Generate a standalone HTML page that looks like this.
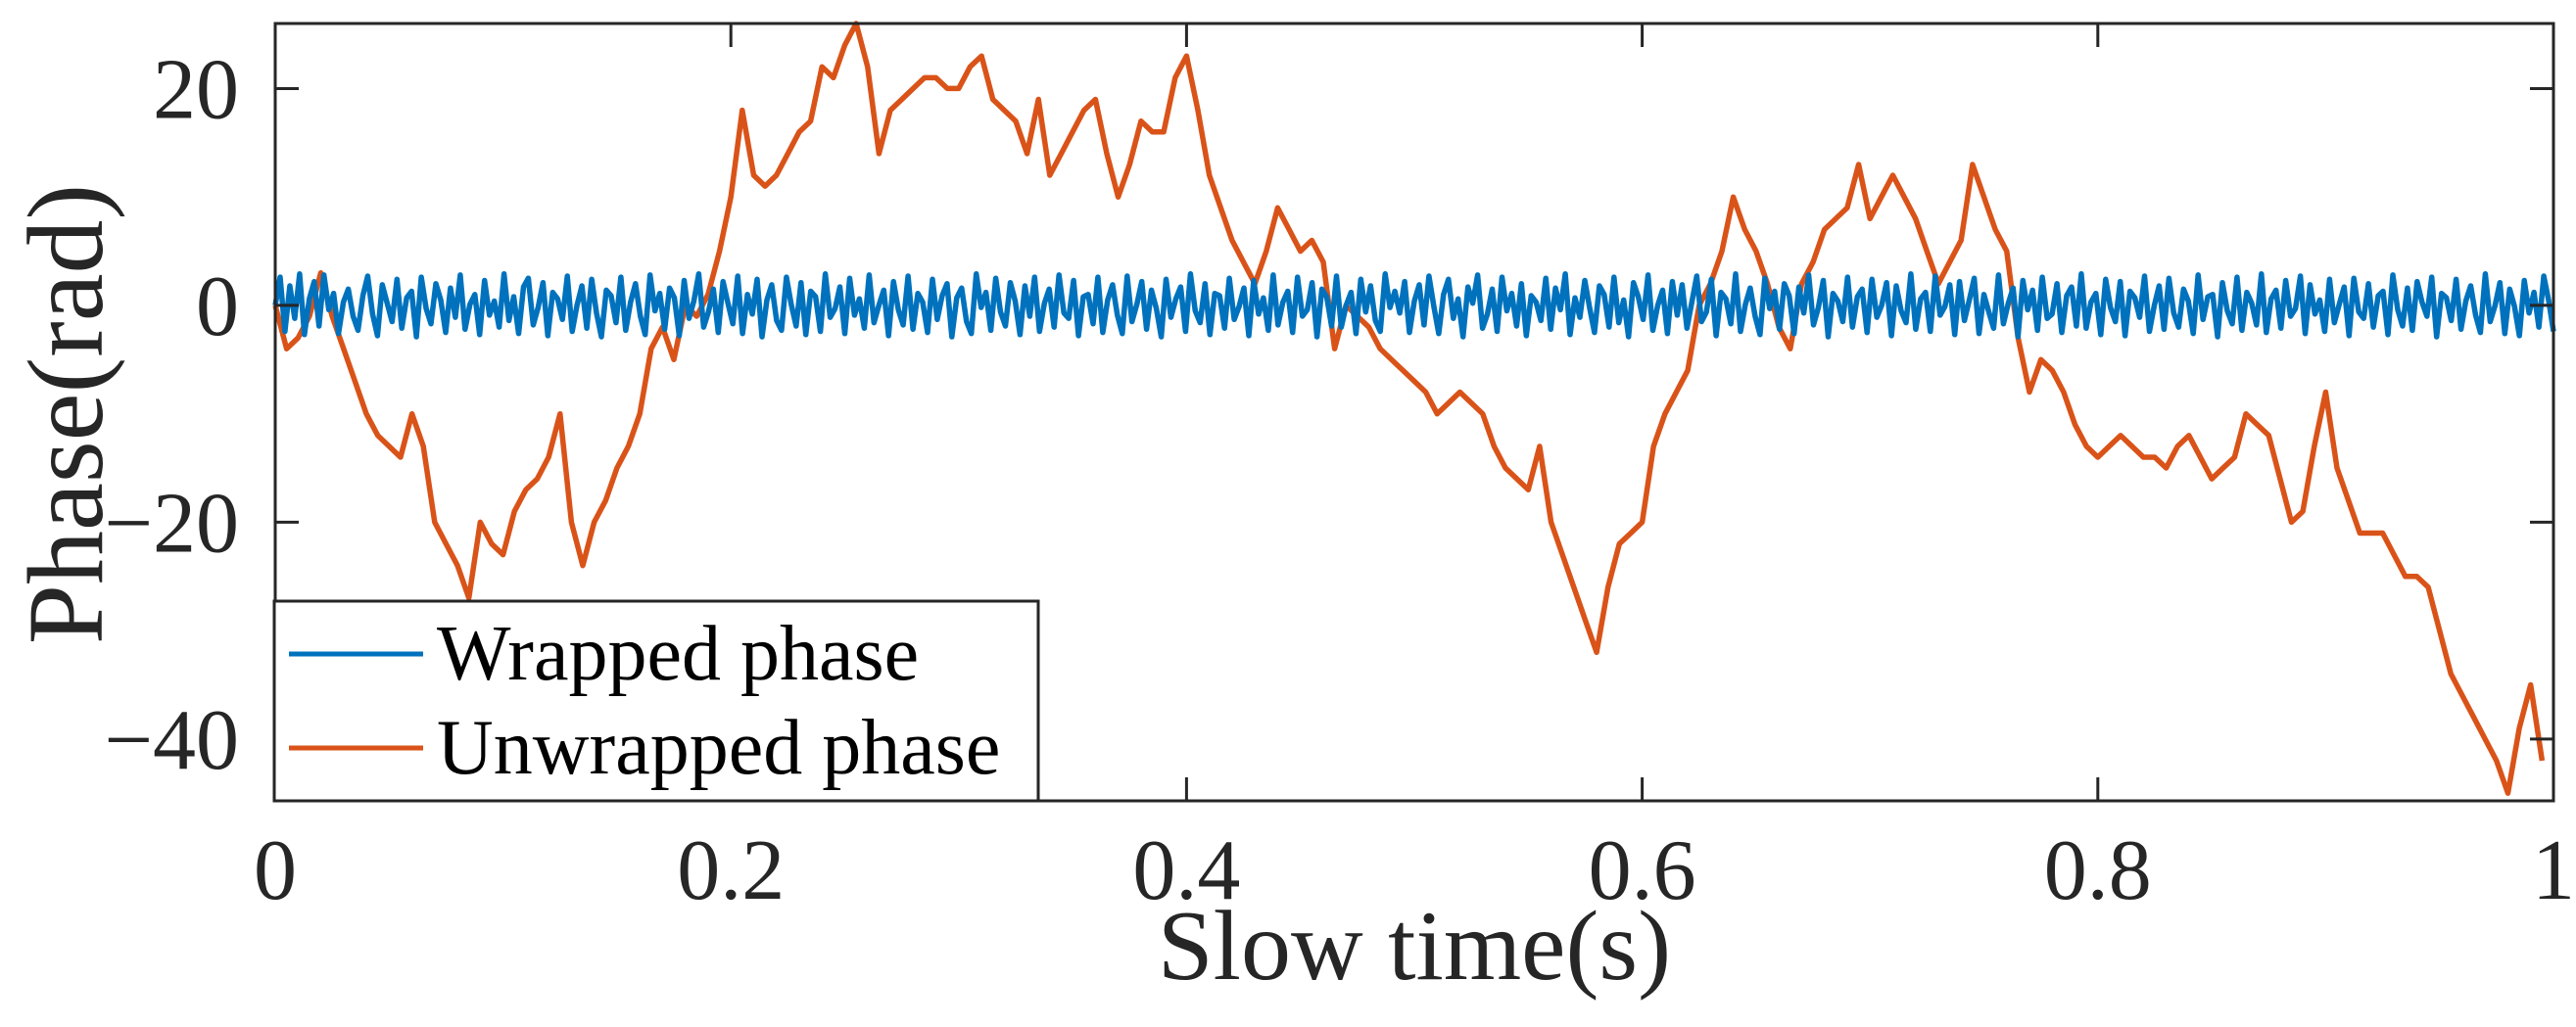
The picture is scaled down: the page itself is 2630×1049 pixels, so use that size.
<!DOCTYPE html>
<html><head><meta charset="utf-8"><style>
html,body{margin:0;padding:0;background:#fff;}
svg{display:block;}
text{font-family:"Liberation Serif",serif;fill:#262626;}
</style></head><body>
<svg id="chart" width="2630" height="1049" viewBox="0 0 2630 1049">
<rect x="0" y="0" width="2630" height="1049" fill="#fff"/>
<g id="plot"></g>
<g id="axes"></g>
<g id="legend">
<rect x="280" y="614" width="780" height="204" fill="#fff" stroke="#262626" stroke-width="3"/>
<line x1="295" y1="668" x2="432" y2="668" stroke="#0072BD" stroke-width="5"/>
<text x="446" y="694" font-size="80" style="fill:#000">Wrapped phase</text>
<line x1="295" y1="764" x2="432" y2="764" stroke="#D95319" stroke-width="5"/>
<text x="446" y="790" font-size="80" style="fill:#000">Unwrapped phase</text>
</g>
<text x="1444" y="1000" font-size="102" text-anchor="middle">Slow time(s)</text>
<text transform="translate(104,423) rotate(-90)" font-size="110" text-anchor="middle">Phase(rad)</text>
</svg>
<script>
const xTicks=[0,0.2,0.4,0.6,0.8,1];
const xTickLabels=["0","0.2","0.4","0.6","0.8","1"];
const yTicks=[20,0,-20,-40];
const yTickLabels=["20","0","\u221220","\u221240"];
const unwrapT=[0,0.005,0.01,0.015,0.02,0.025,0.03,0.035,0.04,0.045,0.05,0.055,0.06,0.065,0.07,0.075,0.08,0.085,0.09,0.095,0.1,0.105,0.11,0.115,0.12,0.125,0.13,0.135,0.14,0.145,0.15,0.155,0.16,0.165,0.17,0.175,0.18,0.185,0.19,0.195,0.2,0.205,0.21,0.215,0.22,0.225,0.23,0.235,0.24,0.245,0.25,0.255,0.26,0.265,0.27,0.275,0.28,0.285,0.29,0.295,0.3,0.305,0.31,0.315,0.32,0.325,0.33,0.335,0.34,0.345,0.35,0.355,0.36,0.365,0.37,0.375,0.38,0.385,0.39,0.395,0.4,0.405,0.41,0.415,0.42,0.425,0.43,0.435,0.44,0.445,0.45,0.455,0.46,0.465,0.47,0.475,0.48,0.485,0.49,0.495,0.5,0.505,0.51,0.515,0.52,0.525,0.53,0.535,0.54,0.545,0.55,0.555,0.56,0.565,0.57,0.575,0.58,0.585,0.59,0.595,0.6,0.605,0.61,0.615,0.62,0.625,0.63,0.635,0.64,0.645,0.65,0.655,0.66,0.665,0.67,0.675,0.68,0.685,0.69,0.695,0.7,0.705,0.71,0.715,0.72,0.725,0.73,0.735,0.74,0.745,0.75,0.755,0.76,0.765,0.77,0.775,0.78,0.785,0.79,0.795,0.8,0.805,0.81,0.815,0.82,0.825,0.83,0.835,0.84,0.845,0.85,0.855,0.86,0.865,0.87,0.875,0.88,0.885,0.89,0.895,0.9,0.905,0.91,0.915,0.92,0.925,0.93,0.935,0.94,0.945,0.95,0.955,0.96,0.965,0.97,0.975,0.98,0.985,0.99,0.995,1.0];
const unwrapV=[0,-4,-3,-1,3,-1,-4,-7,-10,-12,-13,-14,-10,-13,-20,-22,-24,-27,-20,-22,-23,-19,-17,-16,-14,-10,-20,-24,-20,-18,-15,-13,-10,-4,-2,-5,0,-1,1,5,10,18,12,11,12,14,16,17,22,21,24,26,22,14,18,19,20,21,21,20,20,22,23,19,18,17,14,19,12,14,16,18,19,14,10,13,17,16,16,21,23,18,12,9,6,4,2,5,9,7,5,6,4,-4,0,-1,-2,-4,-5,-6,-7,-8,-10,-9,-8,-9,-10,-13,-15,-16,-17,-13,-20,-23,-26,-29,-32,-26,-22,-21,-20,-13,-10,-8,-6,0,2,5,10,7,5,2,-2,-4,2,4,7,8,9,13,8,10,12,10,8,5,2,4,6,13,10,7,5,-3,-8,-5,-6,-8,-11,-13,-14,-13,-12,-13,-14,-14,-15,-13,-12,-14,-16,-15,-14,-10,-11,-12,-16,-20,-19,-13,-8,-15,-18,-21,-21,-21,-23,-25,-25,-26,-30,-34,-36,-38,-40,-42,-45,-39,-35,-42];
const wrapV=[0,2.6,-2.4,1.8,-1.2,2.9,-2.7,0.6,2.2,-1.9,2.8,-0.4,1.1,-2.6,0.3,1.5,-1.0,-2.3,0.9,2.7,-0.8,-2.8,1.9,0.2,-1.5,2.4,-2.1,0.7,1.3,-2.9,2.6,-0.3,-1.7,2.0,0.5,-2.5,1.6,-1.1,2.8,-2.2,0.1,1.0,-2.7,2.3,-0.9,0.4,-2.0,2.9,-1.4,0.8,-2.6,1.7,2.5,-1.8,-0.2,2.1,-2.8,1.2,0.6,-1.3,2.7,-2.4,0.0,1.8,-2.1,2.4,-0.7,-2.9,1.4,0.9,-1.6,2.6,-2.3,0.3,2.0,-1.0,-2.7,2.8,-0.5,1.1,-2.2,1.6,0.7,-2.8,2.3,-1.2,0.4,2.9,-2.0,-0.6,1.5,-2.5,2.2,0.2,-1.7,2.7,-2.6,1.0,-0.8,2.4,-2.9,0.5,1.9,-1.4,-2.3,2.6,0.1,-1.9,2.1,-2.7,1.3,0.8,-2.4,2.9,-1.1,-0.3,1.7,-2.6,2.5,-0.9,0.6,-2.1,2.8,-1.6,0.0,1.4,-2.8,2.2,-0.4,-1.8,2.7,-2.2,1.1,0.3,-2.5,2.4,-1.3,0.9,2.0,-2.9,0.7,1.6,-1.5,-2.6,2.9,-0.2,1.2,-2.3,2.5,-0.6,-1.9,2.1,0.4,-2.7,1.8,-1.0,2.6,-2.4,0.2,1.5,-2.0,2.8,-0.7,-1.2,2.3,-2.8,0.8,1.0,-1.7,2.6,-2.5,0.5,1.9,-0.9,-2.6,2.7,-1.5,0.1,2.2,-2.2,1.4,-0.3,-2.9,2.4,-1.1,0.6,1.7,-2.4,2.9,-0.5,-1.6,2.0,-2.7,1.1,0.9,-2.1,2.5,-1.3,-0.1,1.6,-2.8,2.3,-0.8,0.7,-2.3,2.8,-1.8,0.3,1.3,-2.5,2.6,-1.0,-0.4,2.1,-2.9,1.5,0.8,-1.9,2.7,-2.0,0.0,1.2,-2.6,2.4,-0.6,1.8,-1.4,-2.4,2.9,-0.2,
1.3,-0.7,2.2,-2.5,0.4,1.9,-1.8,2.7,-0.1,-2.6,1.0,2.4,-1.2,0.6,-2.9,1.7,0.2,2.8,-2.1,-0.8,1.5,-2.4,2.6,-0.5,1.1,-1.9,2.0,-2.8,0.9,0.3,-1.4,2.5,-2.2,1.6,-0.4,2.9,-2.7,0.7,-1.1,2.3,-0.2,-2.5,1.8,1.0,-2.0,2.6,-1.6,0.5,-2.9,2.1,0.8,-1.3,2.8,-2.3,0.0,1.4,-2.6,2.2,-0.9,1.9,-2.1,0.3,2.7,-1.5,-0.6,2.4,-2.8,1.2,0.6,-1.7,2.9,-2.4,0.1,1.6,-1.0,-2.7,2.5,-0.3,1.3,-2.2,2.0,0.9,-2.6,1.7,-0.7,2.8,-1.8,-0.2,2.3,-2.9,1.1,0.4,-1.5,2.6,-2.0,0.8,1.5,-2.5,2.4,-1.1,0.0,2.1,-2.8,1.8,-0.5,-1.6,2.9,-2.2,0.6,1.2,-2.4,2.7,-0.9,-0.1,1.9,-2.7,2.2,-1.4,0.5,2.5,-2.6,1.0,-0.6,-2.1,2.8,-1.7,0.2,1.6,-2.9,2.3,-0.4,1.4,-2.3,2.6,-1.2,-0.8,2.0,-2.5,0.9,1.7,-1.9,2.9,-2.1,0.3,1.1,-2.7,2.4,-0.2,-1.5,2.2,-2.8,1.3,0.7,-1.1,2.7,-2.4,0.0,1.8,-2.2,2.5,-0.7,-2.0,1.5,0.4,-2.6,2.8,-1.3,0.8,1.0,-2.9,2.1,-0.5,-1.7,2.6,-2.3,1.2,0.2,-1.8,2.9,-2.5,0.6,1.4,-2.1,2.3,-1.0,-0.3,2.7,-2.6,1.9,-0.8,0.5,-2.4,2.4,-1.6,0.1,1.7,-2.8,2.5,-0.6,-1.2,2.0,-2.0,0.9,1.3,-2.7,2.8,-0.4,-1.9,1.6,-2.3,2.2,0.3,-1.0,2.6,-2.9,1.1,0.7,-1.4,2.4,-2.2,0.4,1.8,-0.9,-2.5,2.9,-1.5,0.0,2.1,-2.6,1.5,-0.1,-2.8,2.3,-0.7,1.2,-2.0,2.7,0.5,-2.4];
const X0=281,X1=2607,YT=24,YB=818,YMIN=-45.7,YMAX=26;
function sx(t){return X0+(t-0)*(X1-X0)/1;}
function sy(v){return YB-(v-YMIN)*(YB-YT)/(YMAX-YMIN);}
const NS="http://www.w3.org/2000/svg";
const plot=document.getElementById('plot');
const axes=document.getElementById('axes');
function mk(tag,attrs,parent){const e=document.createElementNS(NS,tag);for(const k in attrs)e.setAttribute(k,attrs[k]);parent.appendChild(e);return e;}
let d=unwrapT.map((t,i)=>(i?'L':'M')+sx(t).toFixed(1)+','+sy(unwrapV[i]).toFixed(1)).join('');
const po=mk('path',{d:d,fill:'none',stroke:'#D95319','stroke-width':5.5,'stroke-linejoin':'round'},plot);


const n=wrapV.length;
d=wrapV.map((v,i)=>(i?'L':'M')+sx(i/(n-1)).toFixed(1)+','+sy(v).toFixed(1)).join('');
const pb=mk('path',{d:d,fill:'none',stroke:'#0072BD','stroke-width':5.5,'stroke-linejoin':'round'},plot);


const fr=mk('rect',{x:X0,y:YT,width:X1-X0,height:YB-YT,fill:'none',stroke:'#262626','stroke-width':3},axes);


xTicks.forEach((t,i)=>{
  const x=sx(t);
  const a=mk('line',{x1:x,y1:YB,x2:x,y2:YB-24,stroke:'#262626','stroke-width':3},axes);
  
  
  const b=mk('line',{x1:x,y1:YT,x2:x,y2:YT+24,stroke:'#262626','stroke-width':3},axes);
  
  
  const tx=mk('text',{x:x,y:918,'font-size':88,'text-anchor':'middle'},axes);
  tx.textContent=xTickLabels[i];
  
  
});
yTicks.forEach((v,i)=>{
  const y=sy(v);
  const a=mk('line',{x1:X0,y1:y,x2:X0+24,y2:y,stroke:'#262626','stroke-width':3},axes);
  
  
  const b=mk('line',{x1:X1,y1:y,x2:X1-24,y2:y,stroke:'#262626','stroke-width':3},axes);
  
  
  const tx=mk('text',{x:244,y:y+30,'font-size':88,'text-anchor':'end'},axes);
  tx.textContent=yTickLabels[i];
  
  
});
</script>
</body></html>
